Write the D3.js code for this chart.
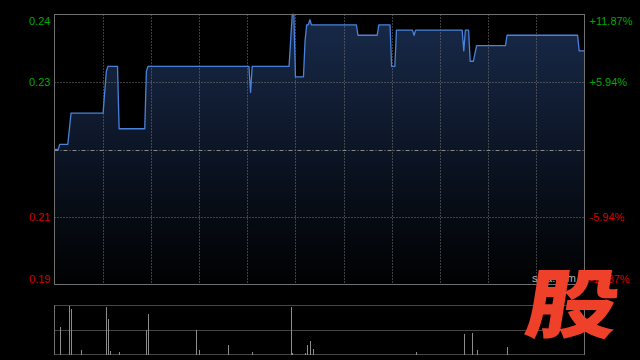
<!DOCTYPE html>
<html><head><meta charset="utf-8">
<script src="https://cdn.jsdelivr.net/npm/d3@7/dist/d3.min.js"></script>
<style>html,body{margin:0;padding:0;background:#000;}svg{display:block;}</style>
</head><body>
<svg id="c" width="640" height="360"></svg>
<script>
// ---- data ----
const prevClose = 0.219;
const priceMinutes = [0,2,3,8,10,30,32,33,39,40,56,57,58,121,122,123,146,148,149,150,155,156,157,158,159,160,188,189,201,202,209,210,212,213,223,224,225,254,255,256,258,259,261,263,281,282,326,327,330];
const priceValues  = [0.219,0.219,0.220,0.220,0.226,0.226,0.234,0.235,0.235,0.223,0.223,0.234,0.235,0.235,0.230,0.235,0.235,0.245,0.245,0.233,0.233,0.240,0.243,0.243,0.244,0.243,0.243,0.241,0.241,0.243,0.243,0.235,0.235,0.242,0.242,0.241,0.242,0.242,0.238,0.242,0.242,0.236,0.236,0.239,0.239,0.241,0.241,0.238,0.238];
const volMinutes = [3,9,10,16,32,33,34,40,57,58,88,90,108,123,147,148,156,157,159,161,225,255,260,263,282];
const volValues  = [27,48.5,45,4,47,35,3,2,24,40,24,4,9,2,47,1,1,9,13,5,2,20,21,4,7];
const priceTicks = [0.245,0.232,0.206,0.193];
const leftLabels = ["0.24","0.23","0.21","0.19"];
const rightLabels = ["+11.87%","+5.94%","-5.94%","-11.87%"];
const timeGridMinutes = [30,60,90,120,150,180,210,240,270,300];
const totalMinutes = 330;
const volMax = 49.3;

// ---- layout ----
const svg = d3.select("#c");
const L = 54.5, R = 584.5, T = 14.5, B = 284.5;
const VT = 305.5, VB = 354.5;
const font = "'Liberation Sans', Arial, sans-serif";
const green = "#00a800", red = "#d40000";

const x = d3.scaleLinear().domain([0,totalMinutes]).range([55,584]);
const y = d3.scaleLinear().domain([priceTicks[3], priceTicks[0]]).range([B, T]);
const vy = d3.scaleLinear().domain([0, volMax]).range([VB, VT - 0.5]);

const defs = svg.append("defs");
const grad = defs.append("linearGradient").attr("id","fillg")
  .attr("gradientUnits","userSpaceOnUse").attr("x1",0).attr("x2",0).attr("y1",T).attr("y2",290);
grad.append("stop").attr("offset","0%").attr("stop-color","#182a4a");
grad.append("stop").attr("offset","100%").attr("stop-color","#000000");

const pts = priceMinutes.map((m,i)=>[m, priceValues[i]]);

// area fill
svg.append("path").datum(pts)
  .attr("d", d3.area().x(d=>x(d[0])).y0(B).y1(d=>y(d[1])))
  .attr("fill","url(#fillg)");

// grid: horizontal
const gridColor = "#7a7a7a";
svg.append("g").selectAll("line").data([priceTicks[1], priceTicks[2]]).join("line")
  .attr("x1",L).attr("x2",R)
  .attr("y1",d=>Math.round(y(d))+0.5).attr("y2",d=>Math.round(y(d))+0.5)
  .attr("stroke",gridColor).attr("stroke-dasharray","1,2");
// grid: vertical
svg.append("g").selectAll("line").data(timeGridMinutes).join("line")
  .attr("x1",d=>Math.round(x(d))+0.5).attr("x2",d=>Math.round(x(d))+0.5)
  .attr("y1",T).attr("y2",B)
  .attr("stroke",gridColor).attr("stroke-dasharray","1,2");
// prev close line
svg.append("line").attr("x1",L).attr("x2",R)
  .attr("y1",Math.round(y(prevClose))+0.5).attr("y2",Math.round(y(prevClose))+0.5)
  .attr("stroke","#8a8a8a").attr("stroke-dasharray","4,2,1,2");

// price line
svg.append("path").datum(pts)
  .attr("d", d3.line().x(d=>x(d[0])).y(d=>y(d[1])))
  .attr("fill","none").attr("stroke","#4a82dc").attr("stroke-width",1.3)
  .attr("stroke-linejoin","round");

// border
svg.append("rect").attr("x",L).attr("y",T).attr("width",R-L).attr("height",B-T)
  .attr("fill","none").attr("stroke","#707070");

// left axis labels
const leftAxis = d3.axisLeft(y).tickValues(priceTicks).tickSize(0).tickPadding(4)
  .tickFormat((d,i)=>leftLabels[i]);
const gl = svg.append("g").attr("transform",`translate(${L},0)`).call(leftAxis);
gl.select(".domain").remove();
gl.selectAll("text").attr("font-family",font).attr("font-size",11)
  .attr("fill",(d,i)=> i<2 ? green : red)
  .attr("dy",(d,i)=> i===0 ? "0.95em" : (i===3 ? "-0.15em" : "0.32em"));

// right axis labels
const rightAxis = d3.axisRight(y).tickValues(priceTicks).tickSize(0).tickPadding(5)
  .tickFormat((d,i)=>rightLabels[i]);
const gr = svg.append("g").attr("transform",`translate(${R},0)`).call(rightAxis);
gr.select(".domain").remove();
gr.selectAll("text").attr("font-family",font).attr("font-size",11)
  .attr("fill",(d,i)=> i<2 ? green : red)
  .attr("dy",(d,i)=> i===0 ? "0.95em" : (i===3 ? "-0.15em" : "0.32em"));

// volume panel
const vg = svg.append("g");
vg.selectAll("line.vg").data([VT, 330.5, VB]).join("line")
  .attr("x1",L).attr("x2",R).attr("y1",d=>d).attr("y2",d=>d)
  .attr("stroke","#8a8a8a").attr("stroke-dasharray","1,1");
vg.append("line").attr("x1",L).attr("x2",L).attr("y1",VT-0.5).attr("y2",VB+0.5).attr("stroke","#707070");
vg.append("line").attr("x1",R).attr("x2",R).attr("y1",VT-0.5).attr("y2",VB+0.5).attr("stroke","#707070");
vg.selectAll("rect").data(volMinutes.map((m,i)=>[m,volValues[i]])).join("rect")
  .attr("x",d=>Math.round(x(d[0])))
  .attr("width",1)
  .attr("y",d=>vy(d[1]))
  .attr("height",d=>VB - vy(d[1]))
  .attr("fill","#8c8c8c").attr("shape-rendering","crispEdges");

// source text
svg.append("text").attr("x",532).attr("y",282).text("sina.com")
  .attr("font-family",font).attr("font-size",11).attr("fill","#b0b0b0");

// watermark
svg.append("g").attr("transform","translate(573,304.5) skewX(-9) scale(1.1,0.9)")
  .append("text").attr("x",0).attr("y",0).attr("text-anchor","middle")
  .attr("dy","0.36em")
  .attr("font-family","'Noto Sans CJK SC', sans-serif").attr("font-weight",900)
  .attr("font-size",84).attr("fill","#ef4129").text("股");
</script>
</body></html>
